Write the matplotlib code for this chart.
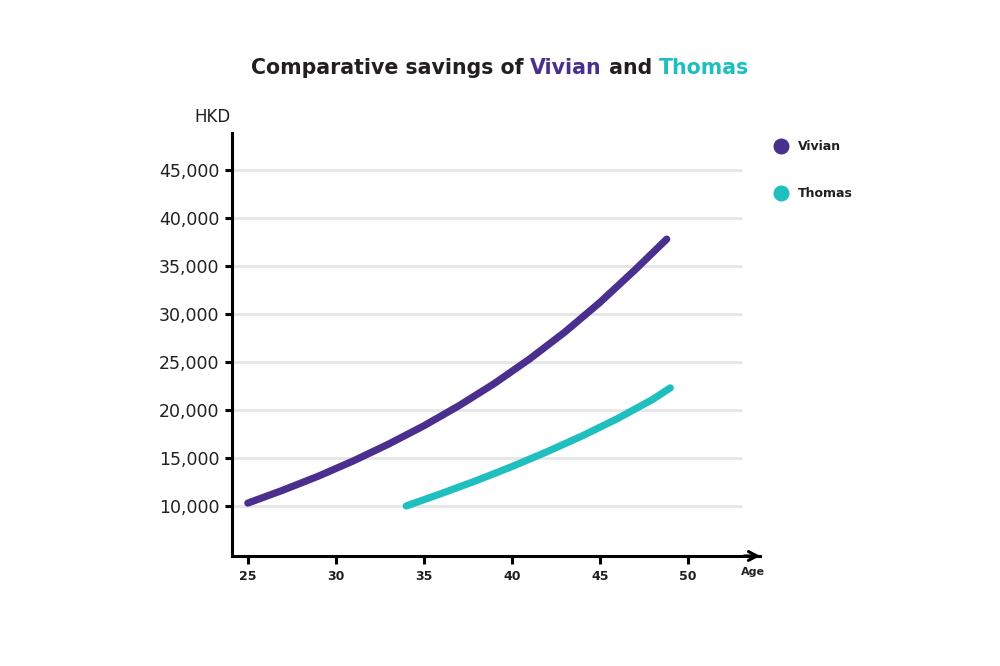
import matplotlib
matplotlib.use("Agg")
import matplotlib.pyplot as plt
from matplotlib.lines import Line2D

# data
vivian_age = [25, 27, 29, 31, 33, 35, 37, 39, 41, 43, 45, 47, 48.8]
vivian_hkd = [10300, 11650, 13100, 14700, 16450, 18350, 20450, 22750, 25300, 28100, 31200, 34600, 37800]
thomas_age = [34, 36, 38, 40, 42, 44, 46, 48, 49]
thomas_hkd = [10000, 11300, 12650, 14100, 15650, 17300, 19100, 21100, 22300]

series_names = ["Vivian", "Thomas"]
series_colors = ["#4a2f8f", "#1fbfbf"]
x_ticks = [25, 30, 35, 40, 45, 50]
y_ticks = [10000, 15000, 20000, 25000, 30000, 35000, 40000, 45000]
title_parts = ["Comparative savings of ", "Vivian", " and ", "Thomas"]
title_colors = ["#231f20", series_colors[0], "#231f20", series_colors[1]]

plt.rcParams["font.family"] = ["DejaVu Sans"]
dark = "#231f20"

fig = plt.figure(figsize=(10, 6.66), dpi=100)
ax = fig.add_axes([0.232, 0.1652, 0.528, 0.635])

# gridlines
ax.hlines(y_ticks, 24.1, 53.1, color="#e6e6e6", linewidth=2, zorder=1)

# curves
ax.plot(vivian_age, vivian_hkd, color=series_colors[0], linewidth=5.2,
        solid_capstyle="round", solid_joinstyle="round", zorder=3)
ax.plot(thomas_age, thomas_hkd, color=series_colors[1], linewidth=5.2,
        solid_capstyle="round", solid_joinstyle="round", zorder=3)

ax.set_xlim(24.1, 54.1)
ax.set_ylim(4790, 48850)

ax.set_xticks(x_ticks)
ax.set_xticklabels([str(t) for t in x_ticks], fontsize=9, fontweight="bold", color=dark)
ax.set_yticks(y_ticks)
ax.set_yticklabels([f"{v:,}" for v in y_ticks], fontsize=12.5, color=dark)

for s in ["top", "right"]:
    ax.spines[s].set_visible(False)
for s in ["left", "bottom"]:
    ax.spines[s].set_linewidth(2.2)
    ax.spines[s].set_color("black")

ax.tick_params(axis="y", direction="out", length=5, width=2.2, pad=4)
ax.tick_params(axis="x", direction="out", length=6, width=2.2, pad=4)

# arrow head on x axis
ax.annotate("", xy=(1.0, 0), xytext=(0.97, 0), xycoords="axes fraction",
            arrowprops=dict(arrowstyle="->,head_length=0.6,head_width=0.32",
                            lw=2.2, color="black", shrinkA=0, shrinkB=0),
            annotation_clip=False)

fig.text(0.753, 1 - 572 / 666, "Age", fontsize=8, fontweight="bold",
         color=dark, ha="center", va="center")
fig.text(0.212, 1 - 117 / 666, "HKD", fontsize=12, color=dark,
         ha="center", va="center")

# legend
for i, (name, col) in enumerate(zip(series_names, series_colors)):
    yy = 1 - (146 + 47 * i) / 666
    fig.add_artist(Line2D([0.781], [yy], marker="o", markersize=10.5,
                          color=col, linestyle="none", transform=fig.transFigure))
    fig.text(0.798, yy, name, fontsize=9, fontweight="bold", color=dark,
             ha="left", va="center")

# multi-coloured title, pieces chained one after another
ty = 1 - 68 / 666
first = fig.text(0.25, ty, title_parts[0], fontsize=14.8, fontweight="bold",
                 color=title_colors[0], ha="left", va="center")
prev = first
pieces = [first]
for part, col in zip(title_parts[1:], title_colors[1:]):
    prev = fig.add_artist(plt.Annotation(
        part, xy=(1, 0), xycoords=prev, xytext=(0, 0), textcoords="offset points",
        fontsize=14.8, fontweight="bold", color=col, ha="left", va="bottom"))
    pieces.append(prev)

# centre the whole title on the figure
fig.canvas.draw()
r = fig.canvas.get_renderer()
x0 = pieces[0].get_window_extent(r).x0
x1 = pieces[-1].get_window_extent(r).x1
shift = (500 - (x0 + x1) / 2) / fig.bbox.width
first.set_x(0.25 + shift)

fig.savefig("out.png", dpi=100)
